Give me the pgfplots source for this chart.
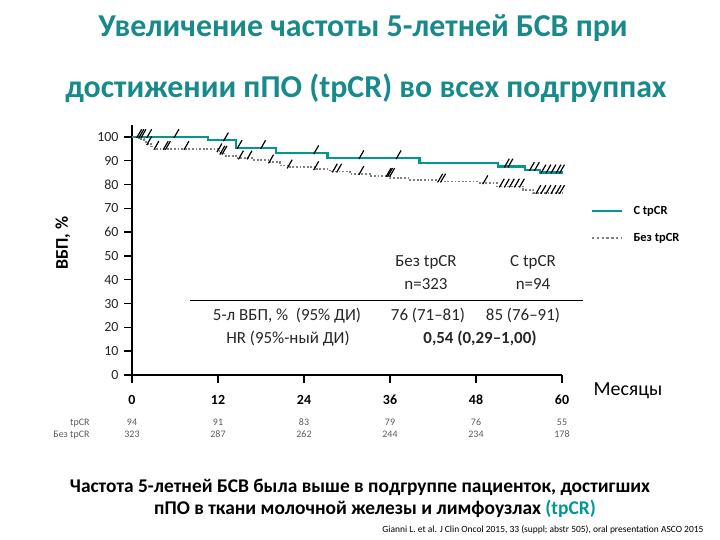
\documentclass[border=0pt]{standalone}
\usepackage{fontspec}
\setmainfont{Carlito}
\usepackage{pgfplots}
\pgfplotsset{compat=1.18}
\definecolor{tealline}{RGB}{0,152,143}
\definecolor{titleteal}{RGB}{24,138,138}
\definecolor{greyline}{RGB}{128,128,128}
\definecolor{risk}{RGB}{90,90,90}
\newcommand{\fs}[1]{\fontsize{#1}{#1}\selectfont}
\begin{document}
\begin{tikzpicture}
\path[use as bounding box] (0,0) rectangle (720bp,-540bp);
\begin{axis}[
  at={(132bp,-375bp)}, anchor=south west,
  scale only axis, width=430bp, height=250bp,
  xmin=0, xmax=60, ymin=0, ymax=105,
  axis lines*=left, clip=false,
  axis line style={line width=1.6bp, black},
  xtick={0,12,...,60}, ytick={0,10,...,100},
  tick align=outside, major tick length=8bp,
  tick style={line width=1.4bp, black},
  /pgf/number format/assume math mode=true,
  xticklabel style={font=\fs{14}\bfseries, text height=10bp, text depth=0bp, yshift=-8bp},
  yticklabel style={font=\fs{14}, text=black!85, xshift=-2bp},
]
% tpCR
\addplot[const plot, tealline, line width=2.4bp] table {
0 100
10.6 98.6
14.5 95.4
20.1 93.2
27.3 91.1
40.1 89.0
51.1 87.6
54.8 86.2
56.9 85.1
60.2 85.1
};
% no tpCR
\addplot[const plot, greyline, line width=1.8bp, dash pattern=on 1.8bp off 1.8bp] table {
0 100
1.0 99
1.7 98
2.2 97
2.7 96
3.4 95
12.0 94
12.4 93
13.1 92
14.5 91
16.9 90.4
19.2 89.3
20.6 88
22.0 87.2
25.7 86.5
27.6 85.5
30.4 84.5
33.2 83.7
36.0 82.7
38.8 82
42.5 81.3
48.5 80.6
50.9 79.2
54.6 77.7
56.0 76.5
60.2 76.5
};
% censoring, tpCR
\addplot[only marks, mark=|, mark size=5bp, mark options={rotate=-30, line width=1.2bp, black}] table {
1.0 101.4
1.3 101.4
1.6 101.4
2.4 101.4
6.2 101.4
13.1 100.0
15.0 96.8
18.3 96.8
25.7 94.6
32.0 92.5
37.2 92.5
52.3 89.0
52.8 89.0
55.8 87.6
56.5 87.6
57.4 86.5
58.1 86.5
58.8 86.5
59.5 86.5
60.0 86.5
};
% censoring, no tpCR
\addplot[only marks, mark=|, mark size=5bp, mark options={rotate=-30, line width=1.2bp, black}] table {
2.4 98.4
3.4 96.4
4.7 96.4
5.0 96.4
7.6 96.4
12.2 95.4
12.6 94.4
12.9 94.4
15.2 92.4
16.4 92.4
19.4 90.7
22.0 88.6
25.7 87.9
28.3 86.9
28.9 86.9
32.0 85.9
35.8 85.1
36.0 85.1
36.3 85.1
43.0 82.7
43.4 82.7
49.3 82.0
51.6 80.6
52.3 80.6
53.0 80.6
53.7 80.6
54.4 80.6
56.7 77.9
57.4 77.9
58.1 77.9
58.8 77.9
59.5 77.9
60.0 77.9
};
\end{axis}
\begin{scope}[x=1bp, y=-1bp]
% title
\node[font=\fs{32}\bfseries, text=titleteal] at (363,28) {Увеличение частоты 5-летней БСВ при};
\node[font=\fs{32}\bfseries, text=titleteal] at (366,88) {достижении пПО (tpCR) во всех подгруппах};
% y label
\node[font=\fs{18}\bfseries, rotate=90] at (63,243) {ВБП, \%};
% x label
\node[font=\fs{20}] at (628,391) {Месяцы};
% legend
\draw[tealline, line width=2.6bp] (592,211) -- (622,211);
\node[font=\fs{12.5}\bfseries, anchor=west] at (630,211) {С tpCR};
\draw[greyline, line width=2.4bp, dash pattern=on 2.4bp off 2.4bp] (592,238) -- (622,238);
\node[font=\fs{12.5}\bfseries, anchor=west] at (630,238) {Без tpCR};
% summary table
\begin{scope}[every node/.style={font=\fs{17}, text=black!85, anchor=base}]
\node at (426,266) {Без tpCR};
\node at (426,289) {n=323};
\node at (533,266) {С tpCR};
\node at (533,289) {n=94};
\node at (287,320) {5-л ВБП, \%\ \ (95\% ДИ)};
\node at (428,320) {76 (71--81)};
\node at (523,320) {85 (76--91)};
\node at (288,343) {HR (95\%-ный ДИ)};
\node[font=\fs{17}\bfseries] at (480,343) {0,54 (0,29--1,00)};
\end{scope}
\draw[line width=0.7bp] (190,300) -- (583,300);
% numbers at risk
\begin{scope}[every node/.style={font=\fs{10}, text=risk, anchor=base}]
\node[anchor=base east] at (93,425) {tpCR};
\node[anchor=base east] at (93,437) {Без tpCR};
\foreach \xx/\a/\b in {0/94/323, 12/91/287, 24/83/262, 36/79/244, 48/76/234, 60/55/178}{
  \node at ({132+7.167*\xx},425) {\a};
  \node at ({132+7.167*\xx},437) {\b};
}
\end{scope}
% footer
\node[font=\fs{19.5}\bfseries] at (360,487) {Частота 5-летней БСВ была выше в подгруппе пациенток, достигших};
\node[font=\fs{19.5}\bfseries] at (375,509) {пПО в ткани молочной железы и лимфоузлах \textcolor{tealline}{(tpCR)}};
\node[font=\fs{9.5}, anchor=east] at (707,530) {Gianni L. et al. J Clin Oncol 2015, 33 (suppl; abstr 505), oral presentation ASCO 2015};
\end{scope}
\end{tikzpicture}
\end{document}
